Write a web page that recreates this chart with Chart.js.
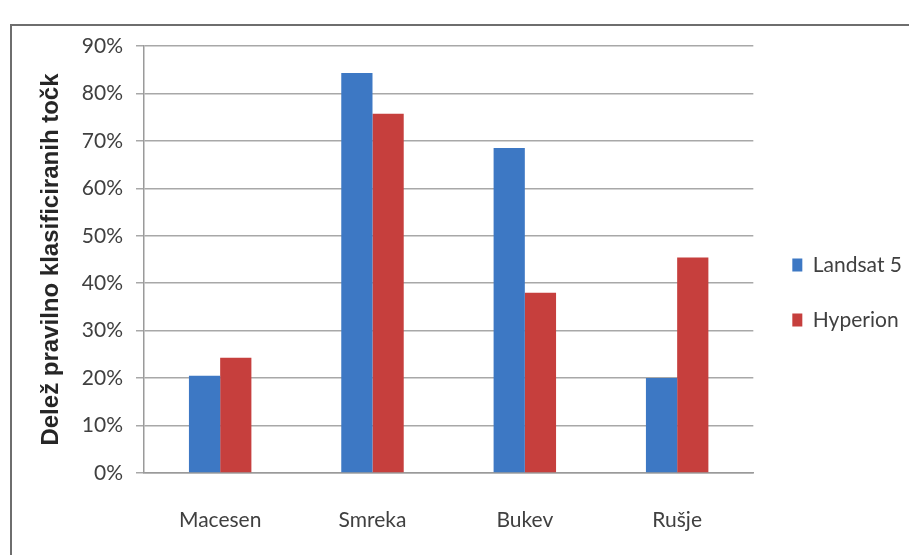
<!DOCTYPE html>
<html>
<head>
<meta charset="utf-8">
<script src="https://cdn.jsdelivr.net/npm/chart.js@4.4.1/dist/chart.umd.min.js"></script>
<style>
  html, body { margin: 0; padding: 0; background: #fff; overflow: hidden; }
  #frame {
    position: absolute; left: 10px; top: 24px; width: 960px; height: 600px;
    border: 2px solid #6e6e6e; box-sizing: border-box;
  }
  #wrap { position: absolute; left: 0; top: 0; width: 909px; height: 555px; }
</style>
</head>
<body>
<div id="frame"></div>
<div id="wrap"><canvas id="speciesChart" width="909" height="555"></canvas></div>
<script>
const categories = ['Macesen', 'Smreka', 'Bukev', 'Rušje'];
const landsat5 = [20.5, 84.3, 68.5, 20.0];
const hyperion = [24.3, 75.7, 38.0, 45.4];
const yTicks = [0, 10, 20, 30, 40, 50, 60, 70, 80, 90];

const fontFamily = 'Lato, "Open Sans", sans-serif';
const textColor = '#404040';

// nudge the legend a bit away from the plot area
const legendShift = {
  id: 'legendShift',
  beforeDraw(chart) {
    if (chart.legend && !chart.legend._shifted) {
      chart.legend.left += 5;
      chart.legend.right += 5;
      chart.legend._shifted = true;
    }
  },
};

const ctx = document.getElementById('speciesChart').getContext('2d');
new Chart(ctx, {
  type: 'bar',
  data: {
    labels: categories,
    datasets: [
      {
        label: 'Landsat 5',
        data: landsat5,
        backgroundColor: '#3d78c4',
        borderWidth: 0,
        categoryPercentage: 0.41,
        barPercentage: 1.0,
      },
      {
        label: 'Hyperion',
        data: hyperion,
        backgroundColor: '#c63f3d',
        borderWidth: 0,
        categoryPercentage: 0.41,
        barPercentage: 1.0,
      },
    ],
  },
  plugins: [legendShift],
  options: {
    responsive: false,
    animation: false,
    layout: { padding: { left: 33, top: 46, right: 2, bottom: 16 } },
    plugins: {
      tooltip: { enabled: false },
      legend: {
        position: 'right',
        labels: {
          boxWidth: 10,
          boxHeight: 13,
          padding: 34,
          color: textColor,
          font: { family: fontFamily, size: 21 },
        },
      },
    },
    scales: {
      x: {
        grid: { display: false },
        border: { display: true, color: '#9a9a9a', width: 1.5 },
        ticks: {
          color: textColor,
          padding: 27,
          font: { family: fontFamily, size: 21 },
        },
        afterFit: (s) => { s.height = 66; },
      },
      y: {
        min: 0,
        max: 90,
        afterBuildTicks: (s) => { s.ticks = yTicks.map((v) => ({ value: v })); },
        grid: { color: '#a8a8a8', lineWidth: 1.5, tickLength: 8 },
        border: { display: true, color: '#9a9a9a', width: 1.5 },
        ticks: {
          color: textColor,
          padding: 13,
          font: { family: fontFamily, size: 21 },
          callback: (v) => v + '%',
        },
        title: {
          display: true,
          text: 'Delež pravilno klasificiranih točk',
          color: '#262626',
          font: { family: '"Liberation Sans", Arial, sans-serif', size: 24, weight: 'bold' },
          padding: { top: 4, bottom: 4 },
        },
        afterFit: (s) => { s.width = 111; },
      },
    },
  },
});
</script>
</body>
</html>
